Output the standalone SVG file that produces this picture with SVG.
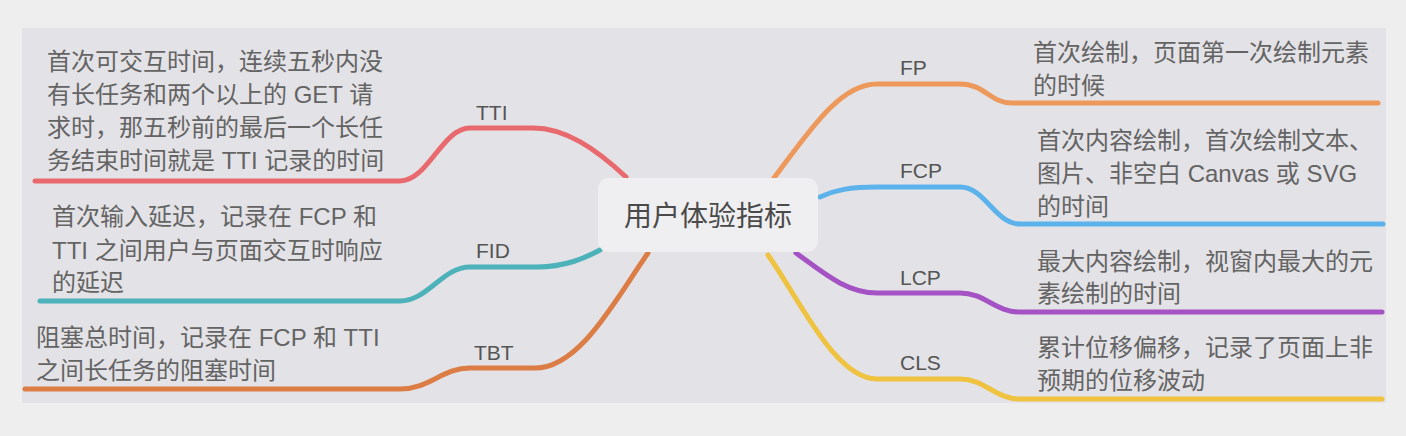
<svg xmlns="http://www.w3.org/2000/svg" width="1406" height="436" viewBox="0 0 1406 436">
<style>
.bg{fill:#efeeef}
.panel{fill:#e3e2e6}
.link{fill:none;stroke-width:5;stroke-linecap:round}
.lbl{font-family:"Liberation Sans","Noto Sans CJK SC",sans-serif;font-size:21px;fill:#555}
.desc{font-family:"Liberation Sans","Noto Sans CJK SC",sans-serif;font-size:24px;fill:#646464}
.center{font-family:"Liberation Sans","Noto Sans CJK SC",sans-serif;font-size:28px;fill:#4a4a4a}
</style>
<rect class="bg" x="0" y="0" width="1406" height="436"/>
<rect class="panel" x="22" y="28" width="1364" height="375"/>
<g id="connectors">
<path class="link" stroke="#e86a6e" d="M35,181 H400 C428,181 442,128 470,128 H533 C565,128 595,148 626,177"/>
<path class="link" stroke="#4db2ba" d="M40,301 H400 C428,301 442,267 470,267 H537 C565,267 585,258 600,250"/>
<path class="link" stroke="#dc7d46" d="M25,389 H400 C430,389 442,368 470,368 H535 C580,368 615,300 648,253"/>
<path class="link" stroke="#ee995c" d="M774,178 C810,130 840,84 877,84 H960 C985,84 990,103 1012,103 H1378"/>
<path class="link" stroke="#5cb3eb" d="M820,197 C835,190 850,187 877,187 H960 C985,187 995,224 1020,224 H1383"/>
<path class="link" stroke="#a553c4" d="M796,253 C820,270 845,293 877,293 H960 C985,293 995,312 1020,312 H1382"/>
<path class="link" stroke="#efc23f" d="M768,255 C800,300 835,379 877,379 H960 C985,379 995,399 1020,399 H1382"/>
</g>
<g id="root">
<rect x="598" y="178" width="220" height="74" rx="11" fill="#efeef0"/>
<text class="center" x="708" y="226" text-anchor="middle">用户体验指标</text>
</g>
<g id="tti">
<text class="lbl" x="476" y="120">TTI</text>
<text class="desc" x="47" y="70">首次可交互时间，连续五秒内没</text>
<text class="desc" x="47" y="103">有长任务和两个以上的 GET 请</text>
<text class="desc" x="47" y="136">求时，那五秒前的最后一个长任</text>
<text class="desc" x="47" y="169">务结束时间就是 TTI 记录的时间</text>
</g>
<g id="fid">
<text class="lbl" x="476" y="258">FID</text>
<text class="desc" x="52" y="225">首次输入延迟，记录在 FCP 和</text>
<text class="desc" x="52" y="259">TTI 之间用户与页面交互时响应</text>
<text class="desc" x="52" y="291">的延迟</text>
</g>
<g id="tbt">
<text class="lbl" x="474" y="360">TBT</text>
<text class="desc" x="36" y="346">阻塞总时间，记录在 FCP 和 TTI</text>
<text class="desc" x="36" y="379">之间长任务的阻塞时间</text>
</g>
<g id="fp">
<text class="lbl" x="900" y="75">FP</text>
<text class="desc" x="1033" y="61">首次绘制，页面第一次绘制元素</text>
<text class="desc" x="1033" y="94">的时候</text>
</g>
<g id="fcp">
<text class="lbl" x="900" y="178">FCP</text>
<text class="desc" x="1037" y="149">首次内容绘制，首次绘制文本、</text>
<text class="desc" x="1037" y="182">图片、非空白 Canvas 或 SVG</text>
<text class="desc" x="1037" y="215">的时间</text>
</g>
<g id="lcp">
<text class="lbl" x="900" y="285">LCP</text>
<text class="desc" x="1037" y="270">最大内容绘制，视窗内最大的元</text>
<text class="desc" x="1037" y="302">素绘制的时间</text>
</g>
<g id="cls">
<text class="lbl" x="900" y="370">CLS</text>
<text class="desc" x="1037" y="356">累计位移偏移，记录了页面上非</text>
<text class="desc" x="1037" y="389">预期的位移波动</text>
</g>
</svg>
